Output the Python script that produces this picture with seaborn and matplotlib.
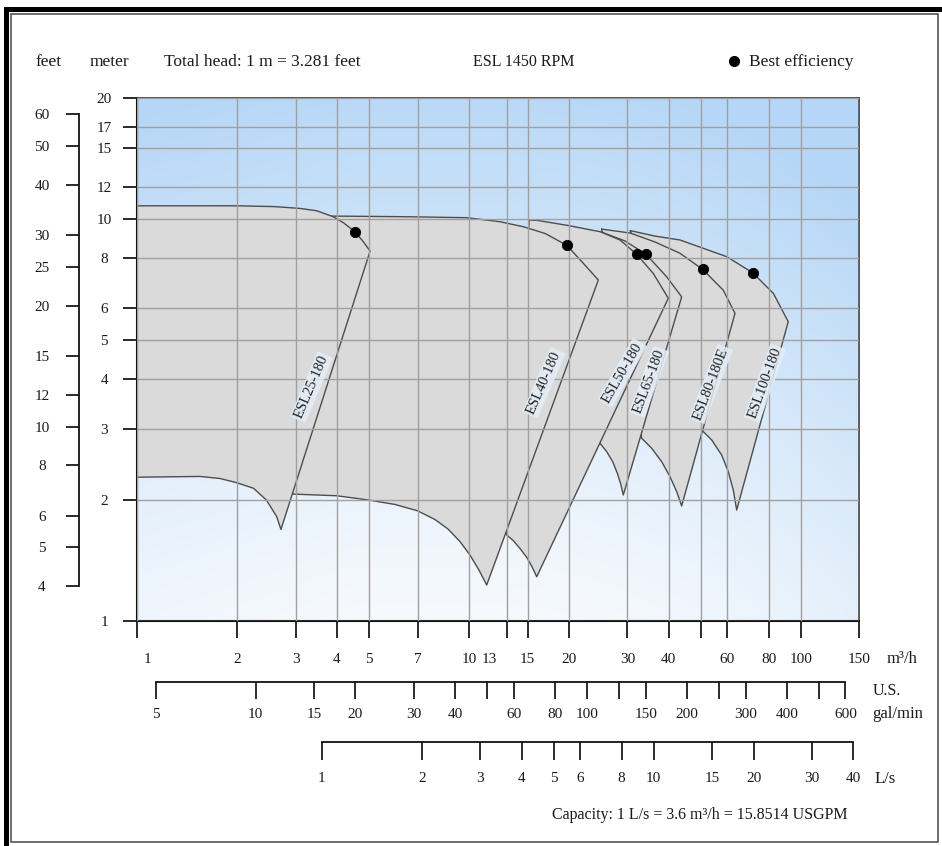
import numpy as np
import matplotlib
matplotlib.use("Agg")
import matplotlib.pyplot as plt
import matplotlib.transforms as mtransforms
from matplotlib.patches import Rectangle
from matplotlib.lines import Line2D
from matplotlib.ticker import NullLocator
import seaborn as sns

# ---------------- data ----------------
flow_ticks = [1, 2, 3, 4, 5, 7, 10, 13, 15, 20, 30, 40, 50, 60, 80, 100, 150]
flow_labels = ["1", "2", "3", "4", "5", "7", "10", "13", "15", "20", "30", "40", "",
               "60", "80", "100", "150"]
head_ticks = [1, 2, 3, 4, 5, 6, 8, 10, 12, 15, 17, 20]
feet_ticks = [4, 5, 6, 8, 10, 12, 15, 20, 25, 30, 40, 50, 60]
gpm_ticks = [5, 10, 15, 20, 30, 40, 50, 60, 80, 100, 125, 150, 200, 250, 300, 400, 500, 600]
gpm_labels = ["5", "10", "15", "20", "30", "40", "", "60", "80", "100", "", "150", "200",
              "", "300", "400", "", "600"]
ls_ticks = [1, 2, 3, 4, 5, 6, 8, 10, 15, 20, 30, 40]

M_TO_FT = 3.281
M3H_TO_GPM = 4.402868
LS_TO_M3H = 3.6

pump_names = ["ESL25-180", "ESL40-180", "ESL50-180", "ESL65-180", "ESL80-180E", "ESL100-180"]

esl25_top_q = [1.0, 2.0, 2.6, 3.09, 3.47, 3.90, 4.18, 4.53, 4.80, 5.03]
esl25_top_h = [10.80, 10.80, 10.75, 10.64, 10.50, 10.14, 9.80, 9.31, 8.79, 8.33]
esl25_bot_q = [1.0, 1.545, 1.775, 1.99, 2.24, 2.45, 2.63, 2.71]
esl25_bot_h = [2.28, 2.29, 2.263, 2.21, 2.14, 2.00, 1.82, 1.69]

esl40_top_q = [3.5, 3.99, 6.19, 9.83, 12.39, 14.57, 16.93, 19.68, 22.09, 24.52]
esl40_top_h = [10.18, 10.18, 10.15, 10.09, 9.86, 9.58, 9.22, 8.62, 7.77, 7.06]
esl40_bot_q = [2.93, 3.99, 4.99, 5.98, 7.00, 7.89, 8.64, 9.39, 10.06, 10.71, 11.30]
esl40_bot_h = [2.07, 2.05, 2.00, 1.95, 1.88, 1.789, 1.694, 1.576, 1.46, 1.339, 1.229]

esl50_top_q = [15.18, 15.99, 19.86, 24.81, 28.50, 32.0, 35.9, 39.85]
esl50_top_h = [9.95, 9.94, 9.65, 9.31, 8.88, 8.18, 7.33, 6.36]
esl50_bot_q = [12.98, 13.59, 14.23, 14.92, 15.44, 15.99]
esl50_bot_h = [1.637, 1.585, 1.516, 1.440, 1.370, 1.289]

esl65_top_q = [25.06, 29.5, 34.14, 39.4, 43.72]
esl65_top_h = [9.29, 8.83, 8.18, 7.19, 6.41]
esl65_bot_q = [24.81, 25.99, 27.09, 27.98, 28.64, 29.16]
esl65_bot_h = [2.769, 2.639, 2.492, 2.331, 2.193, 2.059]

esl80_top_q = [25.09, 30.6, 36.3, 43.2, 50.6, 58.35, 63.3]
esl80_top_h = [9.45, 9.24, 8.78, 8.23, 7.50, 6.66, 5.83]
esl80_bot_q = [33.13, 35.51, 38.06, 40.32, 42.25, 43.72]
esl80_bot_h = [2.850, 2.691, 2.492, 2.287, 2.098, 1.933]

esl100_top_q = [30.6, 36.3, 43.2, 59.75, 71.56, 82.6, 91.6]
esl100_top_h = [9.37, 9.08, 8.88, 8.07, 7.36, 6.54, 5.56]
esl100_bot_q = [50.23, 53.86, 57.72, 60.42, 62.56, 64.05]
esl100_bot_h = [2.988, 2.822, 2.589, 2.353, 2.118, 1.889]

bep_q = [4.53, 19.68, 32.0, 34.14, 50.6, 71.56]
bep_h = [9.31, 8.62, 8.18, 8.18, 7.50, 7.36]

# label anchor positions along each pump's limit line
label_q = [3.35, 16.82, 29.0, 34.85, 53.6, 77.9]
label_h = [3.82, 3.92, 4.15, 3.94, 3.89, 3.91]
label_rot = [67, 66.5, 60, 69.5, 69, 70]

# ---------------- figure ----------------
sns.set_theme(style="white")
plt.rcParams['font.family'] = ['Liberation Serif', 'DejaVu Serif']
plt.rcParams['text.color'] = '#1a1a1a'

W, H = 942, 846
fig = plt.figure(figsize=(W / 100, H / 100), dpi=100)
fig.patch.set_facecolor('white')


def fxp(px):
    return px / W


def fyp(py):
    return 1 - py / H


L, R, T, B = 137.3, 859.3, 98.3, 621.0
ax = fig.add_axes([fxp(L), fyp(B), (R - L) / W, (B - T) / H])
ax.set_xscale('log')
ax.set_yscale('log')

# background gradient
nx, ny = 300, 300
u = np.linspace(0, 1, nx)[None, :]
v = np.linspace(0, 1, ny)[:, None]
f = 0.92 * v ** 1.15 + 0.28 * np.clip((u - 0.5) / 0.5, 0, 1) ** 2 \
    + 0.10 * np.clip((0.3 - u) / 0.3, 0, 1)
f = np.clip(f, 0, 1)[..., None]
c_bot = np.array([0.965, 0.978, 0.993])
c_top = np.array([0.71, 0.84, 0.965])
img = c_bot * (1 - f) + c_top * f
ax.imshow(img, extent=[0, 1, 0, 1], transform=ax.transAxes, aspect='auto',
          origin='lower', zorder=0, interpolation='bilinear')

pumps = [
    (esl25_top_q, esl25_top_h, esl25_bot_q, esl25_bot_h),
    (esl40_top_q, esl40_top_h, esl40_bot_q, esl40_bot_h),
    (esl50_top_q, esl50_top_h, esl50_bot_q, esl50_bot_h),
    (esl65_top_q, esl65_top_h, esl65_bot_q, esl65_bot_h),
    (esl80_top_q, esl80_top_h, esl80_bot_q, esl80_bot_h),
    (esl100_top_q, esl100_top_h, esl100_bot_q, esl100_bot_h),
]

fill_c = '#dadada'
edge_c = '#4d4d4d'
for i, (tq, th, bq, bh) in enumerate(reversed(pumps)):
    z = 1.0 + 0.1 * i
    pq = list(tq) + list(bq)[::-1]
    ph = list(th) + list(bh)[::-1]
    ax.fill(pq, ph, facecolor=fill_c, edgecolor='none', zorder=z)
    sns.lineplot(x=pq + [pq[0]], y=ph + [ph[0]], sort=False, estimator=None,
                 color=edge_c, lw=1.0, ax=ax, zorder=z + 0.05)

sns.scatterplot(x=bep_q, y=bep_h, color='black', s=55, edgecolor='black',
                ax=ax, zorder=7, legend=False)

for name, q, h, rot in zip(pump_names, label_q, label_h, label_rot):
    ax.text(q, h, name, rotation=rot, rotation_mode='anchor', ha='center', va='center',
            fontsize=10.5, zorder=6, color='#222222',
            bbox=dict(boxstyle='square,pad=0.12', fc='#e4eff9', ec='none', alpha=0.85))

ax.set_xlim(1, 150)
ax.set_ylim(1, 20)
ax.set_xlabel('')
ax.set_ylabel('')

ax.set_xticks(flow_ticks, flow_labels)
ax.set_yticks(head_ticks, [str(t) for t in head_ticks])
ax.xaxis.set_minor_locator(NullLocator())
ax.yaxis.set_minor_locator(NullLocator())
ax.tick_params(axis='x', direction='out', length=12.2, width=1.3, pad=10.5,
               labelsize=11, bottom=True, colors='#1a1a1a')
ax.tick_params(axis='y', direction='out', length=10.1, width=1.3, pad=13.7,
               labelsize=11, left=True, colors='#1a1a1a')
for lab in ax.get_yticklabels():
    lab.set_ha('center')
ax.grid(True, color='#a0a0a0', lw=1.0)
ax.set_axisbelow(False)
for s in ['left', 'bottom']:
    ax.spines[s].set_color('#111111')
    ax.spines[s].set_linewidth(1.5)
for s in ['top', 'right']:
    ax.spines[s].set_color('#555555')
    ax.spines[s].set_linewidth(1.4)
    ax.spines[s].set_visible(True)

# shift crowded flow labels as in the original
xlabs = ax.get_xticklabels()
xlabs[0].set_transform(xlabs[0].get_transform() +
                       mtransforms.ScaledTranslation(10 / 100, 0, fig.dpi_scale_trans))
xlabs[7].set_transform(xlabs[7].get_transform() +
                       mtransforms.ScaledTranslation(-18 / 100, 0, fig.dpi_scale_trans))

# feet scale
axf = fig.add_axes([fxp(79), fyp(B), 0.02, (B - T) / H])
axf.set_yscale('log')
axf.set_ylim(1 * M_TO_FT, 20 * M_TO_FT)
axf.set_yticks(feet_ticks, [str(t) for t in feet_ticks])
axf.yaxis.set_minor_locator(NullLocator())
axf.set_xticks([])
axf.patch.set_visible(False)
for s in ['top', 'right', 'bottom']:
    axf.spines[s].set_visible(False)
axf.spines['left'].set_bounds(4, 60)
axf.spines['left'].set_color('#111111')
axf.spines['left'].set_linewidth(1.3)
axf.tick_params(axis='y', direction='out', length=9.4, width=1.3, pad=17.3,
                labelsize=11, left=True, colors='#1a1a1a')
for lab in axf.get_yticklabels():
    lab.set_ha('center')


def flow_scale(ypx, factor, ticks, labels, lo, hi, length, pad):
    a = fig.add_axes([fxp(L), fyp(ypx), (R - L) / W, 0.01])
    a.set_xscale('log')
    a.set_xlim(1 * factor, 150 * factor)
    a.set_xticks(ticks, labels)
    a.xaxis.set_minor_locator(NullLocator())
    a.set_yticks([])
    a.patch.set_visible(False)
    for s in ['top', 'right', 'left']:
        a.spines[s].set_visible(False)
    a.spines['bottom'].set_bounds(lo, hi)
    a.spines['bottom'].set_color('#111111')
    a.spines['bottom'].set_linewidth(1.3)
    a.tick_params(axis='x', direction='out', length=length, width=1.3, pad=pad,
                  labelsize=11, bottom=True, colors='#1a1a1a')
    return a


flow_scale(682.3, M3H_TO_GPM, gpm_ticks, gpm_labels, 5, 600, 12.0, 6.5)
flow_scale(741.7, 1 / LS_TO_M3H, ls_ticks, [str(t) for t in ls_ticks], 1, 40, 12.6, 9.5)

# header and unit texts
tk = dict(va='center')
fig.text(fxp(49), fyp(62), "feet", ha='center', fontsize=12.5, **tk)
fig.text(fxp(109), fyp(62), "meter", ha='center', fontsize=12.5, **tk)
fig.text(fxp(164), fyp(62), "Total head: 1 m = 3.281 feet", ha='left', fontsize=12.5, **tk)
fig.text(fxp(524), fyp(62), "ESL 1450 RPM", ha='center', fontsize=11.5, **tk)
fig.add_artist(Line2D([fxp(734)], [fyp(61)], marker='o', ms=7, color='black',
                      transform=fig.transFigure))
fig.text(fxp(749), fyp(62), "Best efficiency", ha='left', fontsize=12.5, **tk)
fig.text(fxp(887), fyp(659), "m³/h", ha='left', fontsize=12, **tk)
fig.text(fxp(873), fyp(691), "U.S.", ha='left', fontsize=11.5, **tk)
fig.text(fxp(872), fyp(714), "gal/min", ha='left', fontsize=12, **tk)
fig.text(fxp(875), fyp(779), "L/s", ha='left', fontsize=12, **tk)
fig.text(fxp(700), fyp(815), "Capacity: 1 L/s = 3.6 m³/h = 15.8514 USGPM", ha='center',
         fontsize=11.5, **tk)

# page frame
fig.add_artist(Rectangle((fxp(4), 0), 5 / W, fyp(7), transform=fig.transFigure,
                         color='black', lw=0))
fig.add_artist(Rectangle((fxp(4), fyp(12)), 1 - fxp(4), 5 / H, transform=fig.transFigure,
                         color='black', lw=0))
fig.add_artist(Rectangle((fxp(11), fyp(842)), (938 - 11) / W, (842 - 14) / H,
                         transform=fig.transFigure, fill=False, ec='#555555', lw=1.2))

fig.savefig("out.png", dpi=100, facecolor='white')
